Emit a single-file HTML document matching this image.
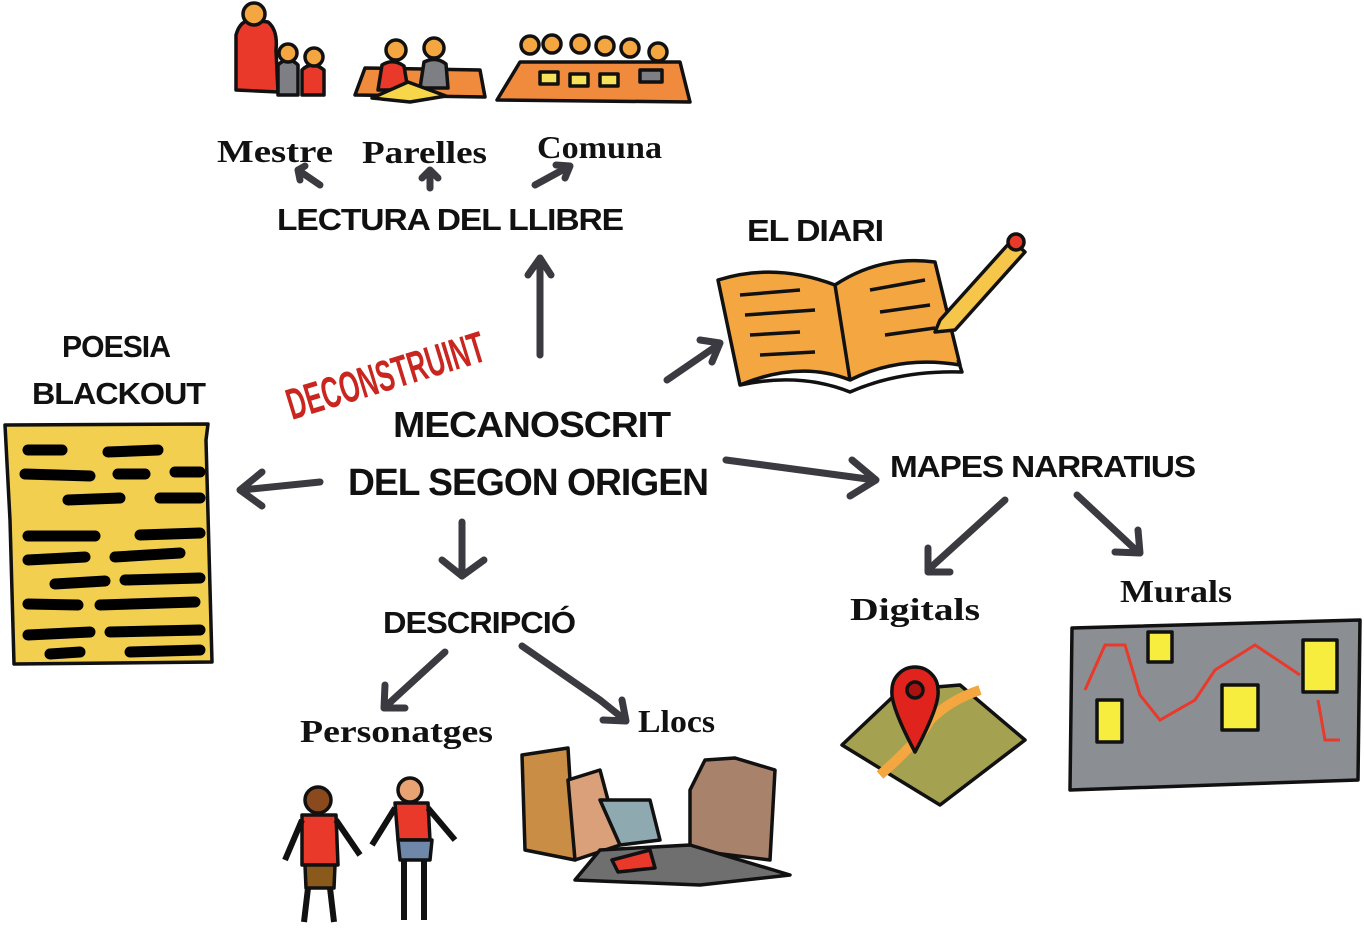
<!DOCTYPE html>
<html><head><meta charset="utf-8"><style>
html,body{margin:0;padding:0;background:#fff;}
svg{display:block}
text{font-family:"Liberation Sans",sans-serif;fill:#111;}
.h{font-weight:bold;font-size:31px;letter-spacing:-1px}
.s{font-weight:bold;font-size:32px;font-family:"Liberation Serif",serif}
.ar{stroke:#3a3a40;stroke-width:7;fill:none;stroke-linecap:round;stroke-linejoin:round}
.ol{stroke:#111;stroke-width:3.5;stroke-linejoin:round}
.bl{stroke:#000;stroke-width:11;stroke-linecap:round}
</style></head><body>
<svg width="1364" height="928" viewBox="0 0 1364 928" xmlns="http://www.w3.org/2000/svg">
<g class="ol">
<path d="M236 90 L236 35 Q240 20 252 20 L268 22 Q278 30 276 50 L278 92 Z" fill="#e8392b"/>
<circle cx="254" cy="14" r="11" fill="#f4a640"/>
<path d="M278 95 L278 65 Q288 55 298 65 L298 95Z" fill="#7d7f85"/><circle cx="288" cy="53" r="9" fill="#f4a640"/>
<path d="M302 95 L302 70 Q312 60 324 70 L324 95Z" fill="#e8392b"/><circle cx="314" cy="57" r="9" fill="#f4a640"/>
<path d="M355 95 L365 68 L480 70 L485 97Z" fill="#f08a3c"/>
<path d="M378 90 L382 65 Q393 58 404 66 L408 90Z" fill="#e8392b"/><circle cx="396" cy="50" r="10" fill="#f4a640"/>
<path d="M420 88 L424 62 Q436 56 446 64 L448 88Z" fill="#7d7f85"/><circle cx="434" cy="48" r="10" fill="#f4a640"/>
<path d="M372 98 L408 82 L446 96 L410 102Z" fill="#f7d64a"/>
<path d="M497 100 L520 62 L680 62 L690 102Z" fill="#f08a3c"/>
<circle cx="530" cy="45" r="9" fill="#f4a640"/><circle cx="552" cy="44" r="9" fill="#f4a640"/><circle cx="580" cy="44" r="9" fill="#f4a640"/><circle cx="605" cy="46" r="9" fill="#f4a640"/><circle cx="630" cy="48" r="9" fill="#f4a640"/><circle cx="658" cy="52" r="9" fill="#f4a640"/>
<rect x="540" y="72" width="18" height="12" fill="#f7e35a"/><rect x="570" y="74" width="18" height="12" fill="#f7e35a"/><rect x="600" y="74" width="18" height="12" fill="#f7e35a"/><rect x="640" y="70" width="22" height="12" fill="#7d7f85"/>
</g>
<text class="s" x="217" y="162" textLength="116" lengthAdjust="spacingAndGlyphs">Mestre</text>
<text class="s" x="362" y="163" textLength="125" lengthAdjust="spacingAndGlyphs">Parelles</text>
<text class="s" x="537" y="158" textLength="125" lengthAdjust="spacingAndGlyphs">Comuna</text>
<path class="ar" d="M320 185 L298 170 M298 170 L305 166 M298 170 L300 180"/>
<path class="ar" d="M430 188 L430 172 M422 178 L430 170 L438 178"/>
<path class="ar" d="M535 185 L568 167 M556 165 L570 166 L565 178"/>
<text class="h" x="277" y="230" textLength="346" lengthAdjust="spacingAndGlyphs">LECTURA DEL LLIBRE</text>
<path class="ar" d="M540 355 L540 260 M528 275 L540 258 L551 275"/>
<text class="h" x="747" y="241" textLength="136" lengthAdjust="spacingAndGlyphs">EL DIARI</text>
<g class="ol">
<path d="M740 385 L718 280 Q775 262 835 285 Q880 255 935 262 L960 365 Q900 355 850 380 Q800 360 740 385Z" fill="#f4a640"/>
<path d="M740 385 Q800 372 850 392 Q900 370 962 372 L958 360" fill="none"/>
<path d="M835 285 L850 380" fill="none"/>
<path d="M940 320 L1012 240 L1025 252 L955 330 L935 332Z" fill="#f5c64a"/>
<circle cx="1016" cy="242" r="8" fill="#e8392b"/>
<path d="M740 295 L800 290 M745 315 L815 310 M750 335 L800 332 M760 355 L815 352 M870 290 L925 280 M880 312 L930 305 M885 335 L935 328" fill="none"/>
</g>
<path class="ar" d="M667 380 L718 345 M700 340 L720 343 L712 362"/>
<text x="292" y="420" transform="rotate(-17 292 420)" textLength="205" lengthAdjust="spacingAndGlyphs" style="font-weight:bold;font-size:44px;fill:#c8261e">DECONSTRUINT</text>
<text class="h" x="393" y="437" style="font-size:36px" textLength="277" lengthAdjust="spacingAndGlyphs">MECANOSCRIT</text>
<text class="h" x="348" y="495" style="font-size:38px" textLength="360" lengthAdjust="spacingAndGlyphs">DEL SEGON ORIGEN</text>
<text class="h" x="62" y="357" textLength="108" lengthAdjust="spacingAndGlyphs">POESIA</text>
<text class="h" x="32" y="404" textLength="173" lengthAdjust="spacingAndGlyphs">BLACKOUT</text>
<path class="ol" d="M5 425 L208 424 L206 440 L212 662 L14 664 L10 520Z" fill="#f2cf4e"/>
<g class="bl">
<line x1="28" y1="450" x2="62" y2="450"/><line x1="108" y1="452" x2="158" y2="450"/><line x1="25" y1="474" x2="90" y2="476"/><line x1="118" y1="474" x2="145" y2="474"/><line x1="175" y1="472" x2="200" y2="472"/>
<line x1="68" y1="500" x2="120" y2="498"/><line x1="160" y1="498" x2="200" y2="498"/><line x1="28" y1="536" x2="95" y2="536"/><line x1="140" y1="535" x2="200" y2="533"/>
<line x1="28" y1="560" x2="85" y2="557"/><line x1="115" y1="557" x2="180" y2="553"/><line x1="55" y1="584" x2="105" y2="581"/><line x1="125" y1="580" x2="200" y2="578"/>
<line x1="28" y1="604" x2="78" y2="605"/><line x1="100" y1="605" x2="195" y2="602"/><line x1="28" y1="635" x2="90" y2="632"/><line x1="110" y1="632" x2="200" y2="630"/><line x1="50" y1="654" x2="80" y2="652"/><line x1="130" y1="652" x2="200" y2="650"/>
</g>
<path class="ar" d="M320 482 L242 490 M262 472 L240 490 L262 506"/>
<path class="ar" d="M726 460 L875 480 M852 460 L876 480 L850 496"/>
<text class="h" x="890" y="477" textLength="305" lengthAdjust="spacingAndGlyphs">MAPES NARRATIUS</text>
<path class="ar" d="M1005 500 L928 570 M928 548 L928 572 L950 572"/>
<path class="ar" d="M1077 495 L1138 552 M1138 530 L1140 553 L1115 552"/>
<text class="s" x="850" y="620" textLength="130" lengthAdjust="spacingAndGlyphs">Digitals</text>
<text class="s" x="1120" y="602" textLength="112" lengthAdjust="spacingAndGlyphs">Murals</text>
<g class="ol">
<path d="M842 745 L900 690 L960 685 L1025 740 L940 805Z" fill="#a4a150"/>
<path d="M880 775 Q920 740 930 720 Q950 700 980 690" stroke="#f4a640" stroke-width="10" fill="none"/>
<path d="M915 752 Q890 705 892 690 A23 23 0 1 1 938 690 Q940 705 915 752Z" fill="#e0231c"/>
<circle cx="915" cy="690" r="8" fill="#a11"/>
</g>
<path class="ol" d="M1072 628 L1360 620 L1358 780 L1070 790Z" fill="#8b8f94"/>
<path d="M1085 690 L1105 645 L1125 645 L1140 695 L1160 720 L1195 700 L1215 670 L1255 645 L1300 675 M1318 700 L1325 740 L1340 740" stroke="#e8392b" stroke-width="3" fill="none"/>
<g class="ol" fill="#f7ed3e"><rect x="1148" y="632" width="24" height="30"/><rect x="1097" y="700" width="25" height="42"/><rect x="1222" y="685" width="36" height="45"/><rect x="1303" y="640" width="34" height="52"/></g>
<path class="ar" d="M462 522 L462 575 M442 560 L462 576 L484 560"/>
<text class="h" x="383" y="633" textLength="192" lengthAdjust="spacingAndGlyphs">DESCRIPCIÓ</text>
<path class="ar" d="M445 652 L385 707 M385 685 L384 708 L405 708"/>
<path class="ar" d="M522 646 L600 700 L625 720 M603 720 L626 721 L622 700"/>
<text class="s" x="300" y="742" textLength="193" lengthAdjust="spacingAndGlyphs">Personatges</text>
<text class="s" x="638" y="732" textLength="77" lengthAdjust="spacingAndGlyphs">Llocs</text>
<g class="ol">
<circle cx="318" cy="800" r="13" fill="#8a4a1e"/>
<path d="M302 815 L336 815 L338 865 L302 865Z" fill="#e8392b"/>
<path d="M305 865 L335 865 L334 888 L306 888Z" fill="#8a5a1c"/>
<path d="M308 888 L304 922 M330 888 L334 922 M302 820 L285 860 M336 820 L360 855" fill="none" stroke-width="6"/>
<circle cx="410" cy="790" r="12" fill="#e9a272"/>
<path d="M395 803 L428 803 L430 840 L398 840Z" fill="#e8392b"/>
<path d="M398 840 L432 840 L430 860 L400 860Z" fill="#6f87a8"/>
<path d="M404 860 L404 920 M424 860 L424 920 M395 808 L372 845 M428 808 L455 840" fill="none" stroke-width="6"/>
</g>
<g class="ol">
<path d="M522 755 L568 748 L575 860 L525 850Z" fill="#c98d45"/>
<path d="M568 780 L600 770 L620 845 L575 860Z" fill="#d9a07a"/>
<path d="M600 800 L650 800 L660 840 L620 845Z" fill="#8eaab0"/>
<path d="M690 790 L705 760 L735 758 L775 770 L770 860 L690 850Z" fill="#a9826b"/>
<path d="M575 880 L600 850 L690 845 L790 875 L700 885Z" fill="#6f6f70"/>
<path d="M612 860 L650 850 L655 868 L618 872Z" fill="#e8392b"/>
</g>
</svg>
</body></html>
